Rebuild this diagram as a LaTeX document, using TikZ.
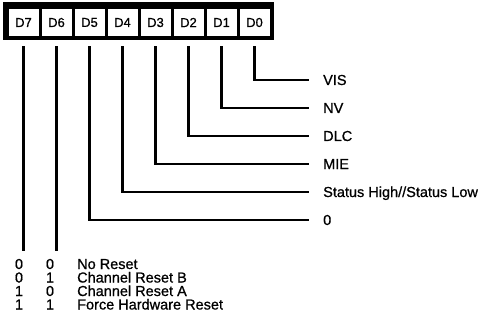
\documentclass[tikz,border=0pt]{standalone}
\usepackage{fontspec}
\setmainfont[FakeBold=0.8]{Liberation Sans}
\usetikzlibrary{calc}
\begin{document}
\begin{tikzpicture}[x=1pt,y=-1pt,
  cell/.style={fill=white,draw=none,minimum width=30pt,minimum height=27pt,inner sep=0pt,font=\fontsize{13}{13}\selectfont},
  wire/.style={line width=2.5pt,line join=miter},
  lbl/.style={anchor=west,inner xsep=14pt,inner ysep=0pt,text height=10pt,text depth=0pt,font=\fontsize{14.5}{14.5}\selectfont},
  tbl/.style={inner sep=0pt,text height=10pt,text depth=0pt,font=\fontsize{14.5}{14.5}\selectfont}]
\useasboundingbox (0,0) rectangle (484,331);
\fill[black] (3,2) rectangle (274,40);
\foreach \i/\n in {0/7,1/6,2/5,3/4,4/3,5/2,6/1,7/0}{
  \node[cell] (c\n) at ({23.5+33*\i},22.5) {D\n};
}
% labels
\node[lbl] (l0) at (309,80) {VIS};
\node[lbl] (l1) at (309,108) {NV};
\node[lbl] (l2) at (309,136) {DLC};
\node[lbl] (l3) at (309,164) {MIE};
\node[lbl] (l4) at (309,192) {Status High//Status Low};
\node[lbl] (l5) at (309,220) {0};
\foreach \n in {0,...,5}{
  \draw[wire] ($(c\n.south)+(0,10)$) |- (l\n.west);
}
\coordinate (e7) at ($(c7.south)+(0,215)$);
\coordinate (e6) at ($(c6.south)+(0,215)$);
\draw[wire] ($(c7.south)+(0,10)$) -- (e7);
\draw[wire] ($(c6.south)+(0,10)$) -- (e6);
% table
\foreach \r/\a/\b/\t in {0/0/0/No Reset,1/0/1/Channel Reset B,2/1/0/Channel Reset A,3/1/1/Force Hardware Reset}{
  \node[tbl] (ta\r) at (19,{264+13.5*\r}) {\a};
  \node[tbl] (tb\r) at (50,{264+13.5*\r}) {\b};
  \node[tbl,anchor=west] (tt\r) at (77,{264+13.5*\r}) {\t};
}
\end{tikzpicture}
\end{document}
